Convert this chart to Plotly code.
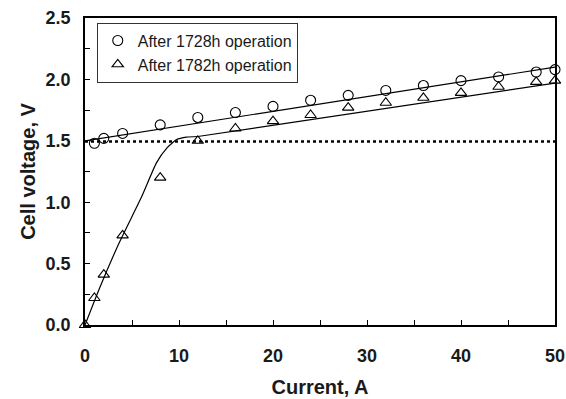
import plotly.graph_objects as go

current_1728 = [1, 2, 4, 8, 12, 16, 20, 24, 28, 32, 36, 40, 44, 48, 50]
voltage_1728 = [1.48, 1.52, 1.56, 1.63, 1.69, 1.73, 1.78, 1.83, 1.87, 1.91, 1.95, 1.99, 2.02, 2.06, 2.08]

current_1782 = [0, 1, 2, 4, 8, 12, 16, 20, 24, 28, 32, 36, 40, 44, 48, 50]
voltage_1782 = [0.0, 0.22, 0.41, 0.73, 1.20, 1.50, 1.60, 1.66, 1.71, 1.77, 1.81, 1.85, 1.89, 1.94, 1.98, 1.99]

fit_1728_x = [0, 50]
fit_1728_y = [1.50, 2.10]

curve_1782_x = [0, 1.6, 3.7, 6.0, 7.6, 8.7, 9.75, 10.8, 12.0]
curve_1782_y = [0.0, 0.31, 0.68, 1.04, 1.32, 1.44, 1.51, 1.53, 1.535]
fit_1782_x = [12.0, 50]
fit_1782_y = [1.535, 1.97]

ref_x = [0, 50.5]
ref_y = [1.494, 1.494]

font = "Liberation Sans, Arial, sans-serif"
txt = "#1a1a1a"

fig = go.Figure()
fig.add_trace(go.Scatter(x=fit_1728_x, y=fit_1728_y, mode="lines",
                         line=dict(color="black", width=1.2), showlegend=False, hoverinfo="skip"))
fig.add_trace(go.Scatter(x=curve_1782_x, y=curve_1782_y, mode="lines",
                         line=dict(color="black", width=1.2, shape="spline", smoothing=0.5),
                         showlegend=False, hoverinfo="skip"))
fig.add_trace(go.Scatter(x=fit_1782_x, y=fit_1782_y, mode="lines",
                         line=dict(color="black", width=1.2), showlegend=False, hoverinfo="skip"))
fig.add_trace(go.Scatter(x=ref_x, y=ref_y, mode="lines", cliponaxis=False,
                         line=dict(color="black", width=2.5, dash="3px,3px"), showlegend=False, hoverinfo="skip"))
fig.add_trace(go.Scatter(x=current_1728, y=voltage_1728, mode="markers", name="After 1728h operation",
                         cliponaxis=False,
                         marker=dict(symbol="circle-open", size=10, color="black", line=dict(width=1.1))))
fig.add_trace(go.Scatter(x=current_1782, y=voltage_1782, mode="markers", name="After 1782h operation",
                         cliponaxis=False,
                         marker=dict(symbol="triangle-up-open", size=10, color="black", line=dict(width=1.1))))

axis_common = dict(showline=True, linecolor="black", linewidth=1.5, mirror=True,
                   ticks="inside", ticklen=5, tickcolor="black", tickwidth=1,
                   showgrid=False, zeroline=False, automargin=False,
                   tickfont=dict(family=font, size=18, color=txt),
                   title_font=dict(family=font, size=20, color=txt))

fig.update_xaxes(range=[0, 50], dtick=10, tick0=0,
                 minor=dict(dtick=5, ticks="inside", ticklen=5, tickcolor="black", showgrid=False),
                 title_text="<b>Current, A</b>", tickprefix="<b>", ticksuffix="</b>",
                 ticklabelstandoff=14, title_standoff=15, **axis_common)
fig.update_yaxes(range=[0, 2.5], dtick=0.5, tick0=0, tickformat=".1f",
                 minor=dict(dtick=0.25, ticks="inside", ticklen=5, tickcolor="black", showgrid=False),
                 title_text="<b>Cell voltage, V</b>", tickprefix="<b>", ticksuffix="</b>",
                 ticklabelstandoff=9, title_standoff=5, **axis_common)

fig.update_layout(
    width=566, height=399,
    margin=dict(l=85, r=11, t=18, b=74),
    plot_bgcolor="white", paper_bgcolor="white",
    font=dict(family=font, color=txt),
    legend=dict(x=0.025, y=0.985, xanchor="left", yanchor="top",
                bordercolor="#333", borderwidth=1, bgcolor="white",
                font=dict(family=font, size=16, color=txt),
                itemwidth=30, tracegroupgap=0),
)

fig.write_html("out.html", config={"displayModeBar": False},
               post_script="document.body.style.margin='0';document.body.style.overflow='hidden';")
